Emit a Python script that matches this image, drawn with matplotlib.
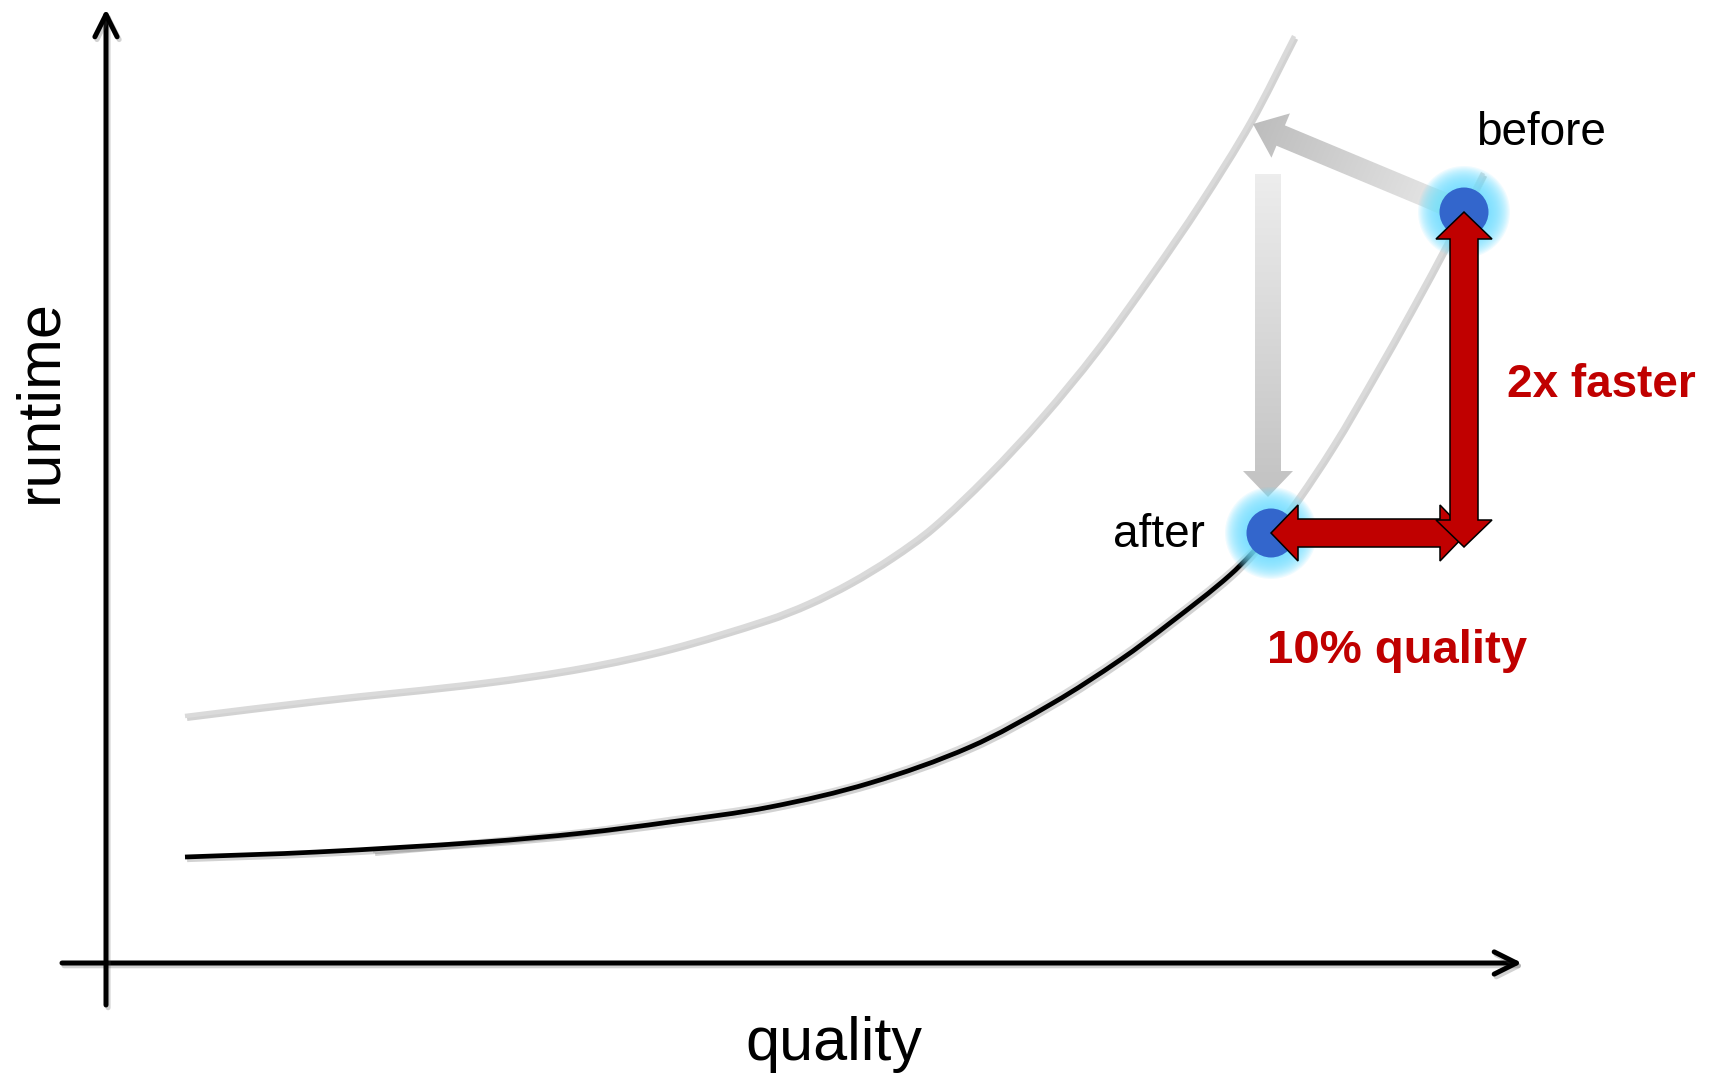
import numpy as np
import matplotlib
matplotlib.use("Agg")
import matplotlib.pyplot as plt
import matplotlib.patheffects as pe
from matplotlib.path import Path
from matplotlib.patches import Polygon, Circle, FancyArrowPatch, PathPatch

plt.rcParams['font.family'] = ['Liberation Sans', 'DejaVu Sans']

# quality / runtime readings (1 unit = 10 px on the canvas)
upper_q = [7.9, 21.1, 37.7, 47.7, 56.4, 66.1, 70.2, 74.4, 78.5, 82.6, 88.1, 93.5, 99.0, 104.5,
           109.4, 114.4, 118.8]
upper_r = [24.7, 26.3, 28.1, 29.6, 31.5, 34.4, 36.0, 38.1, 40.6, 43.6, 48.8, 54.6, 61.3, 68.9,
           76.1, 84.2, 92.7]

current_q = [7.9, 21.1, 37.7, 47.7, 56.4, 66.4, 76.4, 86.4, 94.7, 101.4, 106.4, 112.4, 116.5]
current_r = [10.6, 11.1, 12.1, 13.0, 14.1, 15.6, 18.0, 21.6, 26.0, 30.3, 34.0, 38.8, 43.0]

old_q = [26.7, 37.7, 47.7, 56.4, 66.4, 76.4, 86.4, 94.7, 101.4, 106.4, 112.4, 116.5,
         118.4, 122.7, 126.7, 130.7, 134.2, 137.7]
old_r = [11.2, 12.2, 13.2, 14.4, 15.9, 18.3, 22.0, 26.4, 30.7, 34.4, 39.2, 43.3,
         45.4, 51.8, 58.6, 65.7, 72.2, 79.0]

before = (135.8, 75.1)
after = (116.5, 43.0)
upper_hit = (114.7, 83.9)      # where the "before" point lands on the upper curve
drop_top = (116.2, 78.9)

RED = '#C00000'
BLUE = '#3366CC'
GLOW = (0.45, 0.88, 1.0)


def smooth_path(xs, ys):
    # cubic Bezier through the readings, tangents from chord-length differences
    p = np.column_stack([xs, ys]).astype(float)
    seg = np.hypot(*np.diff(p, axis=0).T)
    t = np.concatenate([[0], np.cumsum(seg)])
    m = np.empty_like(p)
    m[1:-1] = (p[2:] - p[:-2]) / (t[2:] - t[:-2])[:, None]
    m[0] = (p[1] - p[0]) / seg[0]
    m[-1] = (p[-1] - p[-2]) / seg[-1]
    verts = [p[0]]
    codes = [Path.MOVETO]
    for i in range(len(p) - 1):
        h = seg[i] / 3
        verts += [p[i] + m[i] * h, p[i + 1] - m[i + 1] * h, p[i + 1]]
        codes += [Path.CURVE4] * 3
    return Path(verts, codes)


def block_arrow(p0, p1, shaft, head_w, head_len, both=False):
    p0, p1 = np.asarray(p0, float), np.asarray(p1, float)
    d = p1 - p0
    u = d / np.hypot(*d)
    n = np.array([-u[1], u[0]])
    pts = []
    if both:
        pts += [p0, p0 + u * head_len + n * head_w / 2, p0 + u * head_len + n * shaft / 2]
    else:
        pts += [p0 + n * shaft / 2]
    pts += [p1 - u * head_len + n * shaft / 2, p1 - u * head_len + n * head_w / 2, p1,
            p1 - u * head_len - n * head_w / 2, p1 - u * head_len - n * shaft / 2]
    if both:
        pts += [p0 + u * head_len - n * shaft / 2, p0 + u * head_len - n * head_w / 2]
    else:
        pts += [p0 - n * shaft / 2]
    return np.array(pts)


def gradient_arrow(ax, p0, p1, shaft, head_w, head_len, c0, c1, z):
    pts = block_arrow(p0, p1, shaft, head_w, head_len)
    poly = Polygon(pts, closed=True, facecolor='none', edgecolor='none', zorder=z)
    ax.add_patch(poly)
    x0, y0 = pts.min(axis=0)
    x1, y1 = pts.max(axis=0)
    X, Y = np.meshgrid(np.linspace(x0, x1, 200), np.linspace(y0, y1, 200))
    p0, p1 = np.asarray(p0), np.asarray(p1)
    d = p1 - p0
    t = ((X - p0[0]) * d[0] + (Y - p0[1]) * d[1]) / (d @ d)
    t = np.clip(t, 0, 1)[..., None]
    rgb = np.array(c0) + (np.array(c1) - np.array(c0)) * t
    im = ax.imshow(rgb, extent=[x0, x1, y0, y1], origin='lower', aspect='auto',
                   interpolation='bilinear', zorder=z)
    im.set_clip_path(poly)


shadow = [pe.SimpleLineShadow(offset=(1.5, -2), shadow_color='0.3', alpha=0.25), pe.Normal()]

fig = plt.figure(figsize=(17.19, 10.75), dpi=100)
ax = fig.add_axes([0, 0, 1, 1])

# axes arrows
for start, end in [((-4.4, 0), (141.6, 0)), ((0, -4.2), (0, 95.4))]:
    arr = FancyArrowPatch(start, end, arrowstyle='->,head_length=16,head_width=8',
                          mutation_scale=1, lw=3.6, color='black', shrinkA=0, shrinkB=0,
                          zorder=1, path_effects=shadow)
    ax.add_patch(arr)

# curves
for xs, ys, col, lw, z in [(upper_q, upper_r, '#DADADA', 3.2, 1),
                           (old_q, old_r, '#DADADA', 3.2, 1.1),
                           (current_q, current_r, 'black', 3.4, 1.2)]:
    ax.add_patch(PathPatch(smooth_path(xs, ys), fill=False, edgecolor=col, lw=lw,
                           capstyle='butt', zorder=z, path_effects=shadow))

# grey arrows: sideways move and drop
gradient_arrow(ax, before, upper_hit, 2.2, 4.8, 3.0, (0.92, 0.92, 0.92), (0.74, 0.74, 0.74), 2)
gradient_arrow(ax, drop_top, (drop_top[0], after[1] + 3.6), 2.6, 5.0, 2.6,
               (0.93, 0.93, 0.93), (0.76, 0.76, 0.76), 2)

# glowing points
for pt in (before, after):
    for r in np.linspace(4.6, 2.5, 18):
        ax.add_patch(Circle(pt, r, facecolor=GLOW, edgecolor='none', alpha=0.11, zorder=3))
    ax.add_patch(Circle(pt, 2.45, facecolor=BLUE, edgecolor='none', zorder=4))

# red double arrows
h = block_arrow(after, (before[0] + 0.3, after[1]), 2.8, 5.6, 2.7, both=True)
ax.add_patch(Polygon(h, closed=True, facecolor=RED, edgecolor='black', lw=1.1, zorder=5))
v = block_arrow((before[0], after[1] - 1.4), before, 2.8, 5.6, 2.7, both=True)
ax.add_patch(Polygon(v, closed=True, facecolor=RED, edgecolor='black', lw=1.1, zorder=5.1))

# labels
ax.text(-5.0, 56.2, 'runtime', rotation=90, rotation_mode='anchor', ha='center', va='baseline',
        fontsize=44, zorder=6)
ax.text(72.8, -9.7, 'quality', ha='center', va='baseline', fontsize=44, zorder=6)
ax.text(137.0, 81.8, 'before', ha='left', va='baseline', fontsize=33, zorder=6)
ax.text(100.7, 41.6, 'after', ha='left', va='baseline', fontsize=33, zorder=6)
ax.text(140.1, 56.6, '2x faster', ha='left', va='baseline', fontsize=33, fontweight='bold',
        color=RED, zorder=6)
ax.text(116.1, 30.0, '10% quality', ha='left', va='baseline', fontsize=34, fontweight='bold',
        color=RED, zorder=6)

ax.set_xlim(-10.6, 161.3)
ax.set_ylim(-11.2, 96.3)
ax.axis('off')

fig.savefig('out.png', dpi=100)
